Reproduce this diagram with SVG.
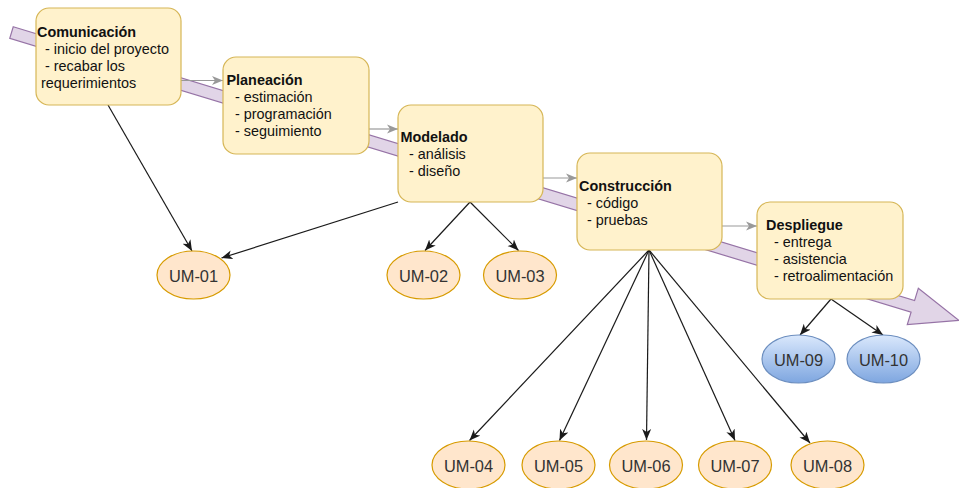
<svg xmlns="http://www.w3.org/2000/svg" width="959" height="488" viewBox="0 0 959 488">
  <defs>
    <style>
      .phase rect { fill: #fff2cc; stroke: #d6b656; stroke-width: 1.2; }
      .phase text { font-family: "Liberation Sans", Arial, sans-serif; font-size: 14.4px; fill: #111; }
      .phase .title { font-weight: bold; }
      .um ellipse { stroke-width: 1.2; }
      .um.orange ellipse { fill: #ffe6cc; stroke: #d79b00; }
      .um.blue ellipse { fill: url(#blueGrad); stroke: #6c8ebf; }
      .um text { font-family: "Liberation Sans", Arial, sans-serif; font-size: 16.4px; fill: #333; text-anchor: middle; }
      .link { stroke: #1a1a1a; stroke-width: 1.2; fill: none; marker-end: url(#arrowDark); }
      .flow { stroke: #999; stroke-width: 1.2; fill: none; marker-end: url(#arrowGray); }
    </style>
    <linearGradient id="blueGrad" x1="0" y1="0" x2="0" y2="1">
      <stop offset="0" stop-color="#dae8fc"/>
      <stop offset="1" stop-color="#7ea6e0"/>
    </linearGradient>
    <marker id="arrowDark" markerUnits="userSpaceOnUse" markerWidth="12" markerHeight="10" refX="11" refY="4.5" orient="auto" viewBox="0 0 12 9">
      <path d="M0,0 L11,4.5 L0,9 L3,4.5 Z" fill="#1a1a1a"/>
    </marker>
    <marker id="arrowGray" markerUnits="userSpaceOnUse" markerWidth="12" markerHeight="10" refX="11" refY="4.5" orient="auto" viewBox="0 0 12 9">
      <path d="M0,0 L11,4.5 L0,9 L3,4.5 Z" fill="#999"/>
    </marker>
  </defs>

  <!-- background process arrow -->
  <g id="process-arrow" transform="translate(11.5,32.5) rotate(16.9)">
    <path d="M0,-6 L942,-6 L942,-19 L990,0 L942,19 L942,6 L0,6 Z" fill="#e1d5e7" stroke="#9673a6" stroke-width="1.2"/>
  </g>

  <!-- connectors -->
  <g id="connectors">
    <line class="flow" x1="181" y1="80.5" x2="223" y2="80.5"/>
    <line class="flow" x1="369" y1="129" x2="398" y2="129"/>
    <line class="flow" x1="543" y1="178" x2="577" y2="178"/>
    <line class="flow" x1="722" y1="226" x2="757" y2="226"/>

    <line class="link" x1="108" y1="105" x2="192" y2="251"/>
    <line class="link" x1="398" y1="202" x2="221.5" y2="258"/>
    <line class="link" x1="470" y1="202" x2="425" y2="250.5"/>
    <line class="link" x1="470" y1="202" x2="518.5" y2="250.5"/>
    <line class="link" x1="649" y1="250" x2="469.5" y2="440.5"/>
    <line class="link" x1="649" y1="250" x2="559.5" y2="440.5"/>
    <line class="link" x1="649" y1="250" x2="646.5" y2="440"/>
    <line class="link" x1="649" y1="250" x2="735" y2="440.5"/>
    <line class="link" x1="649" y1="250" x2="810" y2="443"/>
    <line class="link" x1="831" y1="299" x2="800" y2="335"/>
    <line class="link" x1="831" y1="299" x2="883" y2="335"/>
  </g>

  <!-- phases -->
  <g id="comunicacion" class="phase">
    <rect x="36" y="8" width="145" height="97" rx="13"/>
    <text><tspan class="title" x="37" y="37">Comunicación</tspan><tspan x="45" y="54">- inicio del proyecto</tspan><tspan x="45" y="71">- recabar los</tspan><tspan x="41" y="88">requerimientos</tspan></text>
  </g>
  <g id="planeacion" class="phase">
    <rect x="223" y="57" width="146" height="97" rx="13"/>
    <text><tspan class="title" x="226.5" y="85">Planeación</tspan><tspan x="235" y="102">- estimación</tspan><tspan x="235" y="119">- programación</tspan><tspan x="235" y="136">- seguimiento</tspan></text>
  </g>
  <g id="modelado" class="phase">
    <rect x="398" y="105" width="145" height="97" rx="13"/>
    <text><tspan class="title" x="400.5" y="141.5">Modelado</tspan><tspan x="409" y="158.5">- análisis</tspan><tspan x="409" y="175.5">- diseño</tspan></text>
  </g>
  <g id="construccion" class="phase">
    <rect x="577" y="153" width="145" height="97" rx="13"/>
    <text><tspan class="title" x="579" y="190.5">Construcción</tspan><tspan x="587" y="207.5">- código</tspan><tspan x="587" y="224.5">- pruebas</tspan></text>
  </g>
  <g id="despliegue" class="phase">
    <rect x="757" y="202" width="146" height="97" rx="13"/>
    <text><tspan class="title" x="766" y="230">Despliegue</tspan><tspan x="774" y="247">- entrega</tspan><tspan x="774" y="264">- asistencia</tspan><tspan x="774" y="281">- retroalimentación</tspan></text>
  </g>

  <!-- work units -->
  <g id="um-01" class="um orange"><ellipse cx="193.5" cy="275" rx="36.5" ry="24"/><text x="193.5" y="281.5">UM-01</text></g>
  <g id="um-02" class="um orange"><ellipse cx="423.5" cy="275" rx="36.5" ry="24"/><text x="423.5" y="281.5">UM-02</text></g>
  <g id="um-03" class="um orange"><ellipse cx="520" cy="275" rx="36.5" ry="24"/><text x="520" y="281.5">UM-03</text></g>
  <g id="um-04" class="um orange"><ellipse cx="468.5" cy="465" rx="36.5" ry="24"/><text x="468.5" y="471.5">UM-04</text></g>
  <g id="um-05" class="um orange"><ellipse cx="558.5" cy="465" rx="36.5" ry="24"/><text x="558.5" y="471.5">UM-05</text></g>
  <g id="um-06" class="um orange"><ellipse cx="646" cy="465" rx="36.5" ry="24"/><text x="646" y="471.5">UM-06</text></g>
  <g id="um-07" class="um orange"><ellipse cx="735" cy="465" rx="36.5" ry="24"/><text x="735" y="471.5">UM-07</text></g>
  <g id="um-08" class="um orange"><ellipse cx="827.5" cy="465" rx="36.5" ry="24"/><text x="827.5" y="471.5">UM-08</text></g>
  <g id="um-09" class="um blue"><ellipse cx="798.5" cy="359" rx="36.5" ry="24"/><text x="798.5" y="365.5">UM-09</text></g>
  <g id="um-10" class="um blue"><ellipse cx="883.5" cy="359" rx="36.5" ry="24"/><text x="883.5" y="365.5">UM-10</text></g>
</svg>
